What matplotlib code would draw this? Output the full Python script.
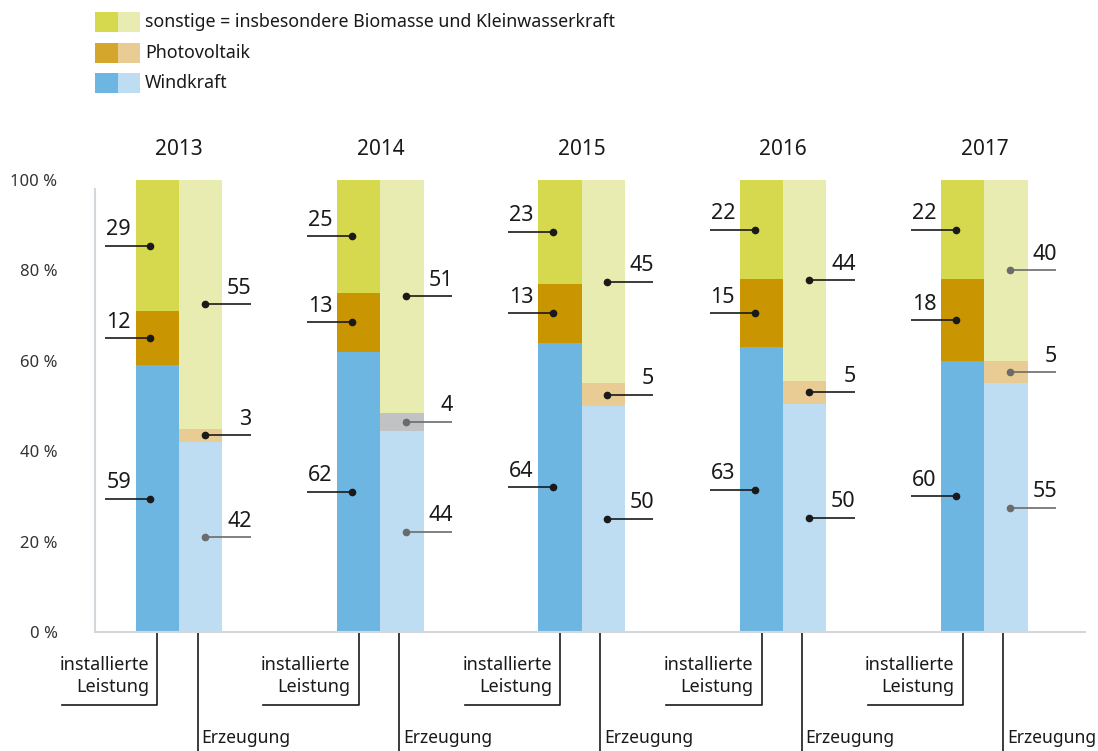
import matplotlib
matplotlib.use("Agg")
import matplotlib.pyplot as plt
import numpy as np
from matplotlib.patches import Rectangle

plt.rcParams["font.family"] = ["Noto Sans", "DejaVu Sans"]

years = ["2013", "2014", "2015", "2016", "2017"]
# installierte Leistung (%)
inst_wind = [59, 62, 64, 63, 60]
inst_pv = [12, 13, 13, 15, 18]
inst_other = [29, 25, 23, 22, 22]
# Erzeugung (%)
gen_wind = [42, 44, 50, 50, 55]
gen_pv = [3, 4, 5, 5, 5]
gen_other = [55, 51, 45, 44, 40]
# which Erzeugung labels are drawn in grey
gen_wind_grey = [True, True, False, False, True]
gen_pv_grey = [False, True, False, False, True]
gen_other_grey = [False, False, False, False, True]

legend_labels = ["sonstige = insbesondere Biomasse und Kleinwasserkraft",
                 "Photovoltaik", "Windkraft"]

C_OTHER, C_OTHER_L = "#d6d94e", "#e8ecb1"
C_PV, C_PV_L = "#c99500", "#e8cc93"
C_WIND, C_WIND_L = "#6eb6e2", "#bfddf2"
C_GREY_SEG = "#c0c2c4"
LEG_DARK = ["#d6d94e", "#d4a72c", "#6eb6e2"]
LEG_LIGHT = ["#e8ecb1", "#e8cc93", "#bfddf2"]
BLACK, GREY = "#1a1a1a", "#6b6b6b"
SPINE = "#d3d8dc"

W, H = 1098, 751
fig = plt.figure(figsize=(W / 100, H / 100), dpi=100)
# axes: x = group index (1 unit = 201.4 px), y = percent
PXU = 201.4
x0 = 179.0
ax = fig.add_axes([95 / W, (H - 632) / H, 990 / W, 452 / H])
ax.set_xlim((95 - x0) / PXU, (1085 - x0) / PXU)
ax.set_ylim(0, 100)
ppy = 452 / 100.0  # px per percent


def px(p):
    return p / PXU


bw = px(43.5)
off_i, off_g = px(-21.7), px(21.5)

for i, yr in enumerate(years):
    vals_i = np.array([inst_wind[i], inst_pv[i], inst_other[i]], float)
    vals_i = vals_i / vals_i.sum() * 100
    cols_i = [C_WIND, C_PV, C_OTHER]
    vals_g = np.array([gen_wind[i], gen_pv[i], gen_other[i]], float)
    vals_g = vals_g / vals_g.sum() * 100
    cols_g = [C_WIND_L, C_GREY_SEG if yr == "2014" else C_PV_L, C_OTHER_L]
    grey_g = [gen_wind_grey[i], gen_pv_grey[i], gen_other_grey[i]]
    raw_i = [inst_wind[i], inst_pv[i], inst_other[i]]
    raw_g = [gen_wind[i], gen_pv[i], gen_other[i]]

    # installierte Leistung
    bot = 0
    for v, c, r in zip(vals_i, cols_i, raw_i):
        ax.bar(i + off_i, v, bw, bottom=bot, color=c, lw=0)
        ym = bot + v / 2
        xd = i + off_i - px(7)
        xl = i + off_i - px(52)
        ax.plot([xl, xd], [ym, ym], color=BLACK, lw=1.2, solid_capstyle="butt")
        ax.plot(xd, ym, "o", color=BLACK, ms=4.5)
        ax.annotate(str(r), (xl + px(1), ym), xytext=(0, 4),
                    textcoords="offset points", ha="left", va="bottom",
                    fontsize=15.5, color=BLACK)
        bot += v

    # Erzeugung
    bot = 0
    for v, c, r, g in zip(vals_g, cols_g, raw_g, grey_g):
        ax.bar(i + off_g, v, bw, bottom=bot, color=c, lw=0)
        ym = bot + v / 2
        lc = GREY if g else BLACK
        xd = i + off_g + px(4)
        xr = i + off_g + px(50)
        ax.plot([xd, xr], [ym, ym], color=lc, lw=1.2, solid_capstyle="butt")
        ax.plot(xd, ym, "o", color=lc, ms=4.5)
        ax.annotate(str(r), (xr + px(1), ym), xytext=(0, 4),
                    textcoords="offset points", ha="right", va="bottom",
                    fontsize=15.5, color=BLACK)
        bot += v

    ax.text(i, (632 - 150) / ppy, yr, ha="center", va="center",
            fontsize=15, color=BLACK)

    # brackets below the axis
    xi = i + off_i
    yb = -(705 - 632) / ppy
    ax.plot([xi, xi, i + px(62 - x0)], [0, yb, yb], color=BLACK, lw=1.2,
            clip_on=False)
    ax.text(i + px(149 - x0), -(676 - 632) / ppy, "installierte\nLeistung",
            ha="right", va="center", multialignment="right",
            fontsize=13, color=BLACK, linespacing=1.25)
    xg = i + off_g - px(3)
    ax.plot([xg, xg], [0, -(760 - 632) / ppy], color=BLACK, lw=1.2,
            clip_on=False)
    ax.text(xg + px(4), -(738 - 632) / ppy, "Erzeugung",
            ha="left", va="center", fontsize=12.6, color=BLACK)

ax.set_yticks(np.arange(0, 101, 20))
ax.set_yticklabels([f"{t} %" for t in range(0, 101, 20)],
                   fontsize=12, color="#333333")
ax.tick_params(axis="y", length=0, pad=27)
ax.set_xticks([])
for s in ["top", "right"]:
    ax.spines[s].set_visible(False)
for s in ["left", "bottom"]:
    ax.spines[s].set_color(SPINE)
    ax.spines[s].set_linewidth(1.5)
ax.spines["left"].set_bounds(0, 98)

# legend at the top
for k, lab in enumerate(legend_labels):
    top = 12 + k * 30.5
    for j, c in enumerate([LEG_DARK[k], LEG_LIGHT[k]]):
        fig.add_artist(Rectangle(((95 + 22.5 * j) / W, (H - top - 20) / H),
                                 22.5 / W, 20 / H, transform=fig.transFigure,
                                 color=c, lw=0))
    fig.text(145 / W, (H - top - 10) / H, lab, ha="left", va="center",
             fontsize=12.8, color=BLACK)

fig.savefig("out.png", dpi=100)
